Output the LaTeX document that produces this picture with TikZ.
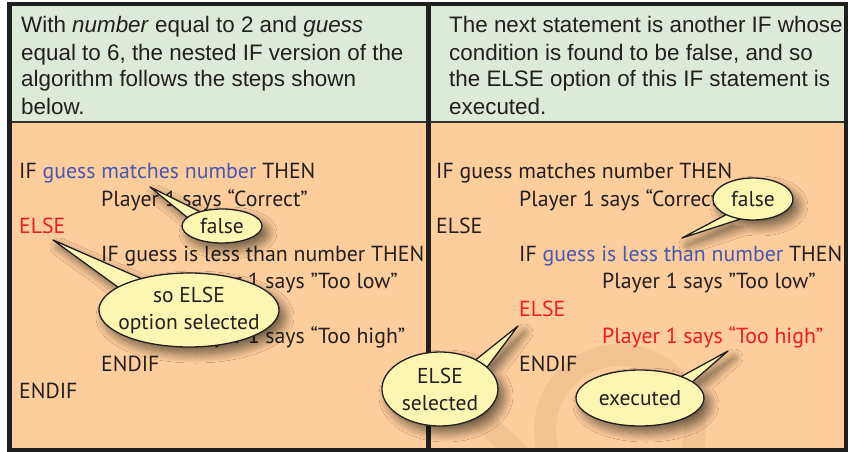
\documentclass[tikz,border=0pt]{standalone}
\usepackage{fontspec}
\setmainfont{Liberation Sans}
\newfontfamily\codefont{PT Sans}
\usetikzlibrary{shadows.blur}

\definecolor{headgreen}{RGB}{221,233,217}
\definecolor{bodypeach}{RGB}{253,205,155}
\definecolor{inkgray}{RGB}{35,31,32}
\definecolor{condblue}{RGB}{72,88,178}
\definecolor{pathred}{RGB}{237,28,36}
\definecolor{bubblefill}{RGB}{253,246,178}
\definecolor{markbrown}{RGB}{120,80,40}

\tikzset{
  headtext/.style={anchor=base west, inner sep=0pt, text=inkgray,
    font=\fontsize{22.4}{27}\selectfont},
  codeline/.style={anchor=base west, inner sep=0pt, text=inkgray,
    font=\codefont\fontsize{21.8}{27}\selectfont},
  bubbletext/.style={inner sep=0pt, text=inkgray, align=center,
    font=\codefont\fontsize{21.5}{27}\selectfont},
  bubble/.style={draw=inkgray, line width=1.3pt, fill=bubblefill,
    line join=round,
    blur shadow={shadow xshift=6pt, shadow yshift=-7pt,
      shadow blur radius=9pt, shadow blur steps=14, shadow opacity=55}},
  frame/.style={draw=black!88, line width=4.5pt},
  faintmark/.style={draw=markbrown, draw opacity=0.07, line width=22pt},
}

% speech bubble: #1 centre, #2/#3 radii, #4/#5 tail base angles, #6 tail tip
\newcommand{\speechbubble}[6]{%
  \path[bubble] (#1) ++(#4:#2 and #3)
    arc[start angle=#4, end angle=#5+360, x radius=#2, y radius=#3]
    -- (#6) -- cycle;}

\begin{document}
\begin{tikzpicture}[x=1pt, y=1pt]
\useasboundingbox (0,0) rectangle (849,-452);
\fill[white] (0,0) rectangle (849,-452);

% panels
\fill[headgreen] (10,-4) rectangle (846,-122);
\fill[bodypeach] (10,-122) rectangle (846,-450);

% faint background mark in the lower right panel
\begin{scope}
  \clip (430,-122) rectangle (844,-448);
  \draw[faintmark] (620,-430) circle[radius=75];
  \draw[faintmark] (445,-385) -- (525,-460);
\end{scope}

\draw[black!80, line width=1.4pt] (10,-122) -- (846,-122);
\draw[frame] (9.7,-4) rectangle (846,-450);
\draw[frame] (428.3,-4) -- (428.3,-450);

% header texts
\node[headtext] (hl1) at (21,-33) {With \textit{number} equal to 2 and \textit{guess}};
\node[headtext] (hl2) at (21,-60) {equal to 6, the nested IF version of the};
\node[headtext] (hl3) at (21,-87) {algorithm follows the steps shown};
\node[headtext] (hl4) at (21,-114) {below.};

\node[headtext] (hr1) at (449,-33) {The next statement is another IF whose};
\node[headtext] (hr2) at (449,-60) {condition is found to be false, and so};
\node[headtext] (hr3) at (449,-87) {the ELSE option of this IF statement is};
\node[headtext] (hr4) at (449,-114) {executed.};

% left algorithm
\node[codeline] (l1) at (19,-178) {IF \textcolor{condblue}{guess matches number} THEN};
\node[codeline] (l2) at (101,-206) {Player 1 says “Correct”};
\node[codeline, text=pathred] (l3) at (19,-233) {ELSE};
\node[codeline] (l4) at (101,-261) {IF guess is less than number THEN};
\node[codeline] (l5) at (184,-288) {Player 1 says ”Too low”};
\node[codeline] (l7) at (184,-343) {Player 1 says “Too high”};
\node[codeline] (l8) at (101,-371) {ENDIF};
\node[codeline] (l9) at (19,-398) {ENDIF};

% right algorithm
\node[codeline] (r1) at (436,-178) {IF guess matches number THEN};
\node[codeline] (r2) at (519,-206) {Player 1 says “Correct”};
\node[codeline] (r3) at (436,-233) {ELSE};
\node[codeline] (r4) at (519,-261) {IF \textcolor{condblue}{guess is less than number} THEN};
\node[codeline] (r5) at (602,-288) {Player 1 says ”Too low”};
\node[codeline, text=pathred] (r6) at (519,-316) {ELSE};
\node[codeline, text=pathred] (r7) at (602,-343) {Player 1 says “Too high”};
\node[codeline] (r8) at (519,-371) {ENDIF};

% bubble tips
\coordinate (t1) at (150,-187);
\coordinate (t2) at (53,-240);
\coordinate (t3) at (518,-326);
\coordinate (t4) at (728,-351);
\coordinate (t5) at (682,-238);

% bubbles
\coordinate (c1) at (222,-226);
\speechbubble{c1}{40}{17}{123}{150}{t1}
\node[bubbletext] (b1) at (c1) {false};

\coordinate (c2) at (189,-310);
\speechbubble{c2}{90}{37}{122}{142}{t2}
\node[bubbletext] (b2) at (c2) {so ELSE\\option selected};

\coordinate (c3) at (440,-389);
\speechbubble{c3}{58}{37}{36}{52}{t3}
\node[bubbletext] (b3) at (c3) {ELSE\\selected};

\coordinate (c4) at (640,-398);
\speechbubble{c4}{64}{28}{35}{50}{t4}
\node[bubbletext] (b4) at (c4) {executed};

\coordinate (c5) at (753,-199);
\speechbubble{c5}{40}{21}{228}{252}{t5}
\node[bubbletext] (b5) at (c5) {false};
\end{tikzpicture}
\end{document}
